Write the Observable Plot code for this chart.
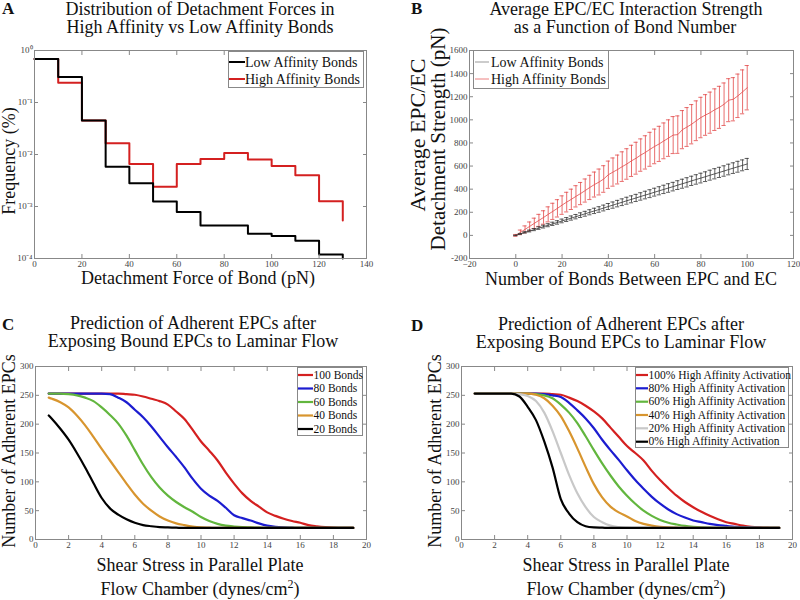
<!DOCTYPE html>
<html><head><meta charset="utf-8">
<script src="https://cdn.jsdelivr.net/npm/d3@7"></script>
<script src="https://cdn.jsdelivr.net/npm/@observablehq/plot@0.6"></script>
<style>
body{margin:0;background:#fff;}
#root{position:relative;width:800px;height:600px;overflow:hidden;font-family:"Liberation Serif","Times New Roman",serif;}
.panel{position:absolute;width:400px;height:300px;}
</style></head><body><div id="root"></div><script>
// ---------- Panel A data ----------
const forceA = [0,10,20,30,40,50,60,70,80,90,100,110,120,130];
const lowA  = [0.69,0.31,0.045,0.0058,0.0028,0.00125,0.00078,0.00043,0.00043,0.0003,0.00027,0.00022,0.00012,0.0001];
const highA = [0.69,0.24,0.045,0.0165,0.0066,0.0024,0.0066,0.0082,0.0107,0.0080,0.0060,0.0040,0.00126,0.00054];
const xTicksA = [0,20,40,60,80,100,120,140];
const yTicksA = [1,0.1,0.01,0.001,0.0001];
const yTickLabelsA = ["10⁰","10⁻¹","10⁻²","10⁻³","10⁻⁴"];

// ---------- Panel B data ----------
const bondsB = [0,2,4,6,8,10,12,14,16,18,20,22,24,26,28,30,32,34,36,38,40,42,44,46,48,50,52,54,56,58,60,62,64,66,68,70,72,74,76,78,80,82,84,86,88,90,92,94,96,98,100];
const highMeanB = [0,26,52,78,104,130,155,182,208,234,262,288,312,338,362,388,415,440,462,488,525,548,570,595,618,645,668,695,718,745,770,792,818,842,868,872,915,938,962,992,1020,1042,1062,1088,1108,1135,1170,1178,1208,1242,1278];
const highErrB  = [8,20,30,38,45,52,58,65,70,75,80,85,88,92,96,100,105,108,112,115,118,122,125,128,132,135,138,140,144,147,150,152,155,158,160,162,165,168,170,172,175,176,178,180,182,184,186,187,188,190,192];
const lowMeanB  = [0,13,26,38,50,63,76,88,100,112,125,137,150,162,175,187,200,212,224,237,250,262,275,287,300,312,324,337,349,361,374,386,398,410,422,435,447,459,472,484,496,508,521,533,545,557,570,582,594,606,618];
const lowErrB   = [2,4,6,8,9,11,12,13,14,15,16,17,18,19,20,21,22,23,24,25,26,27,28,29,30,30,31,32,33,34,34,35,36,37,37,38,39,40,40,41,42,42,43,44,44,45,46,46,47,47,48];
const xTicksB = [-20,0,20,40,60,80,100,120];
const yTicksB = [-200,0,200,400,600,800,1000,1200,1400,1600];

// ---------- Panels C & D data ----------
const shear = [0.8,1,1.5,2,2.5,3,3.5,4,4.5,5,5.5,6,6.5,7,7.5,8,8.5,9,9.5,10,10.5,11,11.5,12,12.5,13,13.5,14,14.5,15,15.5,16,16.5,17,17.5,18,18.5,19,19.2];
const c100 = [253,253,253,253,253,253,253,253,253,253,252,251,248,244,240,234,222,209,190,170,154,137,116,97,80,67,57,47,41,36,32,29,25,23,21.5,20.5,20,20,20];
const c80  = [253,253,253,253,253,253,253,253,252,246,238,225,212,196,178,160,143,125,105,88,76,67,55,42,37,33,28,24,22,21,20.5,20,20,20,20,20,20,20,20];
const c60  = [253,253,253,252,250,246,240,229,216,201,180,155,130,108,90,76,65,56,48,39,32,27,24,22.5,21.5,21,20.5,20,20,20,20,20,20,20,20,20,20,20,20];
const c40  = [246,244,238,229,215,198,178,157,137,117,97,78,62,50,40,33,28,25,22.5,21,20.5,20,20,20,20,20,20,20,20,20,20,20,20,20,20,20,20,20,20];
const c20  = [215,209,192,173,150,125,98,72,54,43,35,29,25,23,21.5,21,20.5,20,20,20,20,20,20,20,20,20,20,20,20,20,20,20,20,20,20,20,20,20,20];
const d100 = [253,253,253,253,253,253,253,253,253,253,252,251,246,240,232,222,210,194,178,162,150,137,119,103,89,76,65,56,48,41,35,30,27,24,22,21,20.5,20,20];
const d80  = [253,253,253,253,253,253,253,253,253,252,250,247,237,224,210,193,173,155,138,120,103,88,74,62,52,44,38,33,30,27,25,23.5,22,21.5,21,20.5,20,20,20];
const d60  = [253,253,253,253,253,253,253,253,252,250,245,234,220,202,179,155,132,111,92,76,62,50,41,34,29,26,23.5,22,21,20.5,20,20,20,20,20,20,20,20,20];
const d40  = [253,253,253,253,253,253,253,253,251,245,232,214,188,158,126,96,73,57,47,40,32,27,24,22,21,20.5,20,20,20,20,20,20,20,20,20,20,20,20,20];
const d20  = [253,253,253,253,253,253,252,249,240,220,188,150,112,80,56,39,30,24,21.5,20.5,20,20,20,20,20,20,20,20,20,20,20,20,20,20,20,20,20,20,20];
const d0   = [253,253,253,253,253,253,248,230,207,170,125,70,45,30,23,21,20.5,20,20,20,20,20,20,20,20,20,20,20,20,20,20,20,20,20,20,20,20,20,20];
const xTicksCD = [0,2,4,6,8,10,12,14,16,18,20];
const yTicksCD = [0,50,100,150,200,250,300];
const seriesC = ["100 Bonds","80 Bonds","60 Bonds","40 Bonds","20 Bonds"];
const seriesD = ["100% High Affinity Activation","80% High Affinity Activation","60% High Affinity Activation","40% High Affinity Activation","20% High Affinity Activation","0% High Affinity Activation"];
const colorsC = ["#d42020","#1c1cd0","#62b63e","#d8952e","#000000"];
const colorsD = ["#d42020","#1c1cd0","#62b63e","#d8952e","#c8c8c8","#000000"];

// ---------- helpers ----------
const FONT = "'Liberation Serif','Times New Roman',serif";
const root = document.getElementById("root");
function boxAxes(xt, yt, yfmt) {
  const common = {tickSize: -4, stroke: "#888", fill: "#444"};
  return [
    Plot.frame({stroke: "#888"}),
    Plot.axisX(xt, {anchor: "bottom", ...common, tickPadding: 6, label: null}),
    Plot.axisX(xt, {anchor: "top", ...common, tickFormat: () => "", label: null}),
    Plot.axisY(yt, {anchor: "left", ...common, tickPadding: 6, label: null, tickFormat: yfmt}),
    Plot.axisY(yt, {anchor: "right", ...common, tickFormat: () => "", label: null})
  ];
}
function place(svg, left, top) {
  const div = document.createElement("div");
  div.className = "panel";
  div.style.left = left + "px";
  div.style.top = top + "px";
  div.appendChild(svg);
  root.appendChild(div);
}
const baseStyle = {background: "transparent", fontFamily: FONT, fontSize: "9px", color: "#444", overflow: "visible"};

// ---------- Panel A ----------
const dataLowA = forceA.map((x, i) => ({x, v: lowA[i]}));
const dataHighA = forceA.map((x, i) => ({x, v: highA[i]}));
const fmtA = new Map(yTicksA.map((t, i) => [t, yTickLabelsA[i]]));
place(Plot.plot({
  width: 400, height: 300,
  marginLeft: 34, marginRight: 34, marginTop: 50, marginBottom: 42,
  style: baseStyle,
  x: {domain: [0, 140]},
  y: {type: "log", domain: [1e-4, 1]},
  marks: [
    Plot.line(dataHighA, {x: "x", y: "v", curve: "step-after", stroke: "#d42020", strokeWidth: 2}),
    Plot.line(dataLowA, {x: "x", y: "v", curve: "step-after", stroke: "#000", strokeWidth: 2}),
    ...boxAxes(xTicksA, yTicksA, d => fmtA.get(d) ?? "")
  ]
}), 0, 0);

// ---------- Panel B ----------
const dataHighB = bondsB.map((x, i) => ({x, m: highMeanB[i], e: highErrB[i]}));
const dataLowB = bondsB.map((x, i) => ({x, m: lowMeanB[i], e: lowErrB[i]}));
function errMarks(data, color) {
  return [
    Plot.ruleX(data, {x: "x", y1: d => d.m - d.e, y2: d => d.m + d.e, stroke: color, strokeWidth: 0.8}),
    Plot.ruleY(data, {y: d => d.m + d.e, x1: d => d.x - 0.9, x2: d => d.x + 0.9, stroke: color, strokeWidth: 0.8}),
    Plot.ruleY(data, {y: d => d.m - d.e, x1: d => d.x - 0.9, x2: d => d.x + 0.9, stroke: color, strokeWidth: 0.8}),
    Plot.line(data, {x: "x", y: "m", stroke: color, strokeWidth: 0.8})
  ];
}
place(Plot.plot({
  width: 400, height: 300,
  marginLeft: 69, marginRight: 7, marginTop: 50, marginBottom: 42,
  style: baseStyle,
  x: {domain: [-20, 120]},
  y: {domain: [-200, 1600]},
  marks: [
    ...errMarks(dataHighB, "#e24848"),
    ...errMarks(dataLowB, "#333"),
    ...boxAxes(xTicksB, yTicksB, d => String(d))
  ]
}), 400, 0);

// ---------- Panels C, D ----------
function curveMarks(seriesVals, colors) {
  return seriesVals.map((vals, k) =>
    Plot.line(shear.map((x, i) => ({x, y: vals[i]})), {x: "x", y: "y", stroke: colors[k], strokeWidth: 2.2, curve: "monotone-x"})
  );
}
place(Plot.plot({
  width: 400, height: 300,
  marginLeft: 35, marginRight: 34, marginTop: 66, marginBottom: 61,
  style: baseStyle,
  x: {domain: [0, 20]},
  y: {domain: [0, 300]},
  marks: [
    ...curveMarks([c100, c80, c60, c40, c20], colorsC),
    ...boxAxes(xTicksCD, yTicksCD, d => String(d))
  ]
}), 0, 300);
place(Plot.plot({
  width: 400, height: 300,
  marginLeft: 61, marginRight: 8, marginTop: 66, marginBottom: 61,
  style: baseStyle,
  x: {domain: [0, 20]},
  y: {domain: [0, 300]},
  marks: [
    ...curveMarks([d100, d80, d60, d40, d20, d0], colorsD),
    ...boxAxes(xTicksCD, yTicksCD, d => String(d))
  ]
}), 400, 300);

// ---------- Overlay: titles, labels, legends ----------
const ov = d3.select(root).append("svg")
  .attr("width", 800).attr("height", 600)
  .style("position", "absolute").style("left", 0).style("top", 0)
  .style("font-family", FONT);
function txt(x, y, s, size, opts = {}) {
  const t = ov.append("text").attr("x", x).attr("y", y)
    .attr("font-size", size).attr("fill", opts.fill || "#111")
    .attr("text-anchor", opts.anchor || "middle")
    .attr("font-weight", opts.bold ? "bold" : null)
    .text(s);
  if (opts.rotate) t.attr("x", 0).attr("y", 0).attr("transform", `translate(${x},${y}) rotate(-90)`);
  return t;
}
// panel letters
txt(2, 14, "A", 17, {anchor: "start", bold: true});
txt(411, 14, "B", 17, {anchor: "start", bold: true});
txt(2, 330, "C", 17, {anchor: "start", bold: true});
txt(411, 331, "D", 17, {anchor: "start", bold: true});
// titles
txt(200, 15, "Distribution of Detachment Forces in", 18);
txt(200, 33, "High Affinity vs Low Affinity Bonds", 18);
txt(626, 15, "Average EPC/EC Interaction Strength", 18);
txt(625, 33, "as a Function of Bond Number", 18);
txt(193, 329, "Prediction of Adherent EPCs after", 18);
txt(193, 347, "Exposing Bound EPCs to Laminar Flow", 18);
txt(621, 330, "Prediction of Adherent EPCs after", 18);
txt(621, 348, "Exposing Bound EPCs to Laminar Flow", 18);
// axis labels
txt(198, 284, "Detachment Force of Bond (pN)", 18);
txt(15, 161, "Frequency (%)", 18, {rotate: true});
txt(631, 285, "Number of Bonds Between EPC and EC", 18);
txt(425, 135, "Average EPC/EC", 22, {rotate: true});
txt(445, 139, "Detachment Strength (pN)", 21, {rotate: true});
function xlabCD(cx) {
  txt(cx, 571, "Shear Stress in Parallel Plate", 18);
  const t = txt(cx, 595, "", 18);
  t.append("tspan").text("Flow Chamber (dynes/cm");
  t.append("tspan").attr("dy", -7).attr("font-size", 12).text("2");
  t.append("tspan").attr("dy", 7).attr("font-size", 18).text(")");
}
xlabCD(200);
xlabCD(626);
txt(15, 451, "Number of Adherent EPCs", 18, {rotate: true});
txt(441, 451, "Number of Adherent EPCs", 18, {rotate: true});

// legends
function legend(x0, y0, w, h, rowY, names, colors, lx1, lx2, tx, fs, sw) {
  ov.append("rect").attr("x", x0 + 0.5).attr("y", y0 + 0.5).attr("width", w).attr("height", h)
    .attr("fill", "#fff").attr("stroke", "#888").attr("stroke-width", 1);
  names.forEach((n, i) => {
    const y = rowY[i];
    ov.append("line").attr("x1", lx1).attr("x2", lx2).attr("y1", y).attr("y2", y)
      .attr("stroke", colors[i]).attr("stroke-width", sw);
    ov.append("text").attr("x", tx).attr("y", y).attr("dy", "0.33em")
      .attr("font-size", fs).attr("fill", "#111").text(n);
  });
}
legend(228, 51, 135, 36, [62, 79], ["Low Affinity Bonds", "High Affinity Bonds"], ["#000", "#d42020"], 229, 245, 245, 14, 2);
legend(473, 50, 135, 38, [62, 79], ["Low Affinity Bonds", "High Affinity Bonds"], ["#999", "#ec8080"], 475, 489, 491, 14, 1);
legend(297, 367, 65, 68, [375, 388.5, 402, 415.5, 429], seriesC, colorsC, 298, 313, 313.5, 11.5, 2.2);
legend(635, 367, 153, 80, [375, 388.3, 401.7, 415, 428.3, 441.7], seriesD, colorsD, 636, 648, 648.5, 11.5, 2.2);
</script></body></html>
